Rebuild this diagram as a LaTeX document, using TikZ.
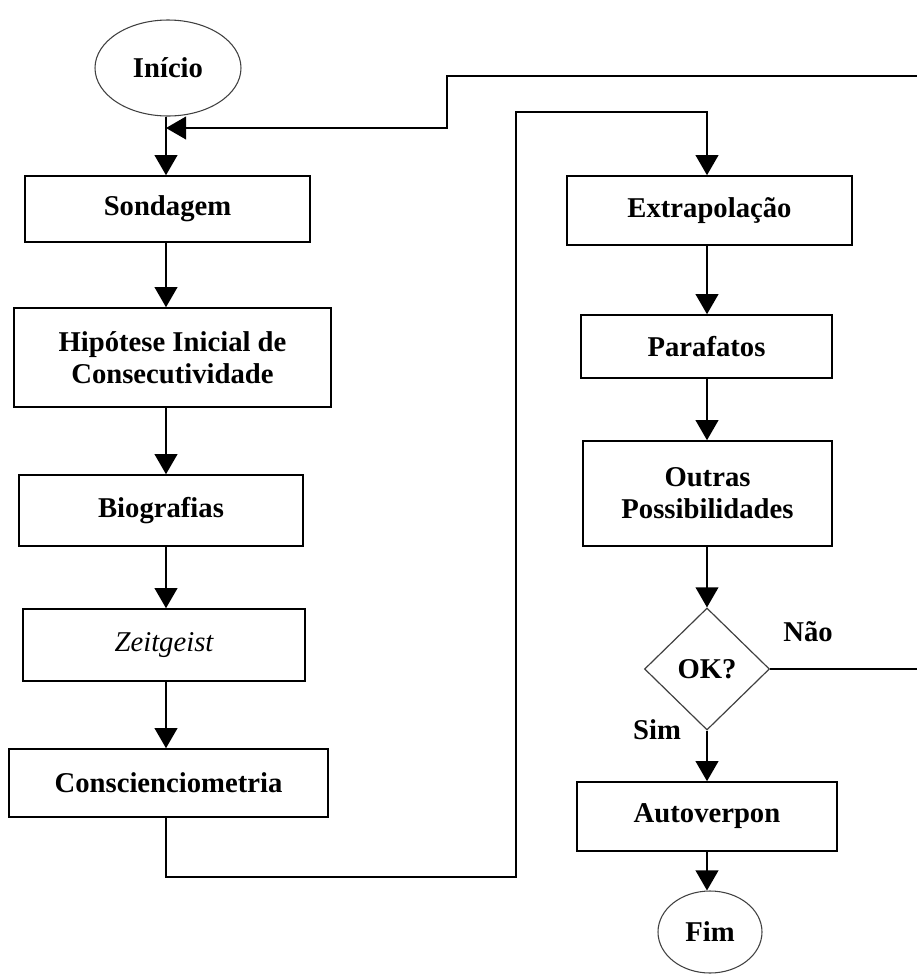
\documentclass[tikz,border=0pt]{standalone}
\usepackage{fontspec}
\setmainfont{Liberation Serif}
\usetikzlibrary{arrows.meta,shapes.geometric}

\tikzset{every picture/.style={line width=1.2pt}}
\tikzset{
  caixa/.style={draw, rectangle, align=center, inner sep=0.75pt, font=\fontsize{21.5}{24}\selectfont\bfseries},
  terminal/.style={draw=black!75, line width=0.8pt, ellipse, inner sep=0.75pt, font=\fontsize{21.5}{24}\selectfont\bfseries},
  decisao/.style={draw=black!75, line width=0.9pt, diamond, inner sep=0pt, font=\fontsize{21.5}{24}\selectfont\bfseries},
  rotulo/.style={inner sep=0.75pt, font=\fontsize{21.5}{24}\selectfont\bfseries},
  seta/.style={-{Triangle[width=17pt,length=15pt]}},
}

\begin{document}
\begin{tikzpicture}[x=0.75pt,y=0.75pt,yscale=-1,xscale=1]
    \useasboundingbox (0,0) rectangle (917,976);

    % Column axes
    \coordinate (eixoA) at (166,0);
    \coordinate (eixoB) at (707,0);

    %Shape: Ellipse [id:inicio]
    \node [terminal, minimum width=109.5pt, minimum height=72pt] (inicio) at (168,68) {Início};
    % Left column boxes
    \node [caixa, minimum width=213.75pt, minimum height=49.5pt] (sond) at (167.5,209) {Sondagem};
    \node [caixa, minimum width=237.75pt, minimum height=74.25pt] (hip) at (172.5,357.5) {Hipótese Inicial de\\Consecutividade};
    \node [caixa, minimum width=213pt, minimum height=53.25pt] (bio) at (161,510.5) {Biografias};
    \node [caixa, minimum width=211.5pt, minimum height=54pt, font=\fontsize{21.5}{24}\selectfont\itshape] (zeit) at (164,645) {Zeitgeist};
    \node [caixa, minimum width=239.25pt, minimum height=51pt] (consc) at (168.5,783) {Conscienciometria};

    % Right column boxes
    \node [caixa, minimum width=213.75pt, minimum height=51.75pt] (extra) at (709.5,210.5) {Extrapolação};
    \node [caixa, minimum width=188.25pt, minimum height=47.25pt] (para) at (706.5,346.5) {Parafatos};
    \node [caixa, minimum width=186.75pt, minimum height=78.75pt] (outras) at (707.5,493.5) {Outras\\Possibilidades};
    %Shape: Diamond [id:ok]
    \node [decisao, minimum width=93.75pt, minimum height=91.5pt] (ok) at (707,669) {OK?};
    \node [caixa, minimum width=195pt, minimum height=51.75pt] (autov) at (707,816.5) {Autoverpon};
    %Shape: Ellipse [id:fim]
    \node [terminal, minimum width=78pt, minimum height=61.5pt] (fim) at (710,932) {Fim};

    % Text Node
    \node [rotulo] (nao) at (808,632) {Não};
    % Text Node
    \node [rotulo] (sim) at (657,730) {Sim};

    % Return path coordinates
    \coordinate (retorno) at (917,76);
    \coordinate (quebra) at (447,76);
    \coordinate (entrada) at (447,128);
    \coordinate (desvio) at (516,877);
    \coordinate (topo) at (516,112);
    \coordinate (borda) at (917,0);

    %Straight Lines
    \draw [seta] (inicio.south -| eixoA) -- (sond.north -| eixoA);
    \draw [seta] (sond.south -| eixoA) -- (hip.north -| eixoA);
    \draw [seta] (hip.south -| eixoA) -- (bio.north -| eixoA);
    \draw [seta] (bio.south -| eixoA) -- (zeit.north -| eixoA);
    \draw [seta] (zeit.south -| eixoA) -- (consc.north -| eixoA);
    \draw [seta] (retorno) -- (quebra) -- (entrada) -- (entrada -| eixoA);
    \draw [seta] (consc.south -| eixoA) -- (eixoA |- desvio) -- (desvio) -- (topo) -- (eixoB |- topo) -- (extra.north -| eixoB);

    \draw [seta] (extra.south -| eixoB) -- (para.north -| eixoB);
    \draw [seta] (para.south -| eixoB) -- (outras.north -| eixoB);
    \draw [seta] (outras.south -| eixoB) -- (ok.north);
    \draw [seta] (ok.south) -- (autov.north -| eixoB);
    \draw [seta] (autov.south -| eixoB) -- (fim.north -| eixoB);
    \draw (ok.east) -- (ok.east -| borda);

  \end{tikzpicture}
\end{document}
